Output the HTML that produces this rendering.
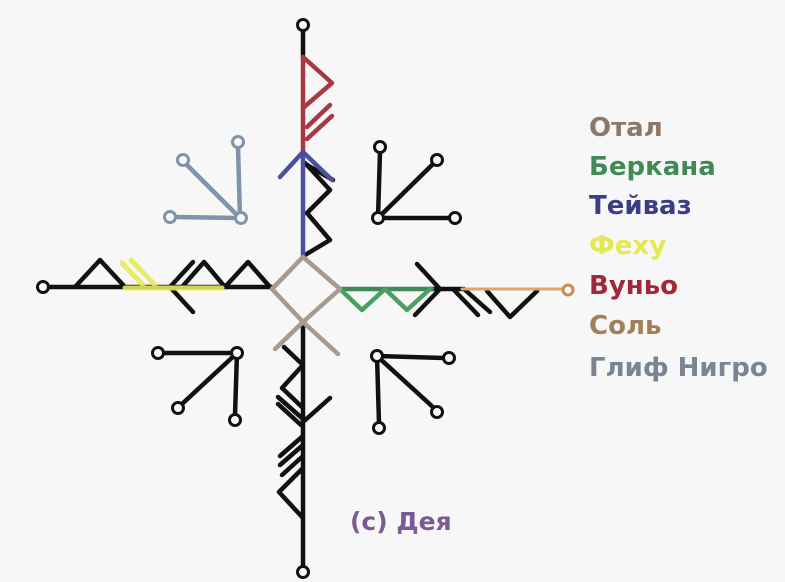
<!DOCTYPE html>
<html><head><meta charset="utf-8"><style>
html,body{margin:0;padding:0;background:#f7f7f7;}
svg{display:block}
text{font-family:"DejaVu Sans","Liberation Sans",sans-serif;font-size:26px;font-weight:bold}
</style></head><body>
<svg width="785" height="582" viewBox="0 0 785 582" xmlns="http://www.w3.org/2000/svg">
<rect width="785" height="582" fill="#f7f7f7"/>
<g fill="none" stroke-width="4.5" stroke-linecap="round" stroke-linejoin="round">
<g stroke="#111">
<line x1="303" y1="31" x2="303" y2="57"/>
<polyline points="305,163 330,190 307,213 330,240 305,255"/>
<line x1="307" y1="165" x2="333" y2="180"/>
</g>
<circle cx="303" cy="25" r="5.5" stroke="#111" stroke-width="3" fill="#f7f7f7"/>
<g stroke="#a83844">
<line x1="303" y1="57" x2="303" y2="152"/>
<polyline points="303,57 332,83 303,108"/>
<line x1="307" y1="127" x2="330" y2="105"/>
<line x1="307" y1="139" x2="332" y2="116"/>
</g>
<g stroke="#4a4fa0">
<line x1="303" y1="152" x2="303" y2="257"/>
<polyline points="280,177 303,152 332,180"/>
</g>
<g stroke="#111">
<line x1="303" y1="322" x2="303" y2="566"/>
<polyline points="284,347 303,365 282,388 303,408"/>
<line x1="278" y1="397" x2="303" y2="419"/>
<line x1="278" y1="404" x2="301" y2="425"/>
<line x1="303" y1="422" x2="330" y2="398"/>
<line x1="303" y1="436" x2="280" y2="456"/>
<line x1="303" y1="445" x2="280" y2="465"/>
<line x1="303" y1="456" x2="282" y2="475"/>
<polyline points="303,468 279,492 303,518"/>
</g>
<circle cx="303" cy="572" r="5.5" stroke="#111" stroke-width="3" fill="#f7f7f7"/>
<g stroke="#111">
<line x1="48" y1="287" x2="272" y2="287"/>
<polyline points="75,287 100,260 125,287"/>
<line x1="193" y1="262" x2="170" y2="287"/>
<line x1="170" y1="287" x2="193" y2="312"/>
<polyline points="182,287 204,262 225,287 248,262 270,287"/>
</g>
<circle cx="43" cy="287" r="5.5" stroke="#111" stroke-width="3" fill="#f7f7f7"/>
<g stroke="#e6ea5a" stroke-width="5" opacity="0.9">
<line x1="125" y1="288" x2="222" y2="288"/>
<line x1="122" y1="263" x2="143" y2="285"/>
<line x1="131" y1="260" x2="155" y2="285"/>
</g>
<g stroke="#111">
<line x1="417" y1="264" x2="440" y2="289"/>
<line x1="440" y1="289" x2="415" y2="315"/>
<line x1="430" y1="289" x2="462" y2="289"/>
<line x1="453" y1="289" x2="478" y2="315"/>
<line x1="464" y1="289" x2="490" y2="312"/>
<polyline points="487,291 510,317 537,291"/>
</g>
<line x1="462" y1="289" x2="563" y2="289" stroke="#d9a870" stroke-width="3"/>
<circle cx="568" cy="290" r="5" stroke="#c89050" stroke-width="3" fill="#f7f7f7"/>
<polyline points="340,289 432,289" stroke="#3e8a55"/>
<polyline points="340,289 362,310 385,289 407,310 430,289" stroke="#4aa060"/>
<g stroke="#a89a8c">
<polygon points="303,257 340,289 303,322 272,289"/>
<line x1="303" y1="322" x2="275" y2="349"/>
<line x1="303" y1="322" x2="338" y2="354"/>
</g>
<g stroke="#8093a8">
<line x1="240" y1="218" x2="238" y2="147"/>
<line x1="240" y1="218" x2="186" y2="164"/>
<line x1="240" y1="218" x2="175" y2="217"/>
<circle cx="238" cy="142" r="5.5" stroke-width="3" fill="#f7f7f7"/>
<circle cx="183" cy="160" r="5.5" stroke-width="3" fill="#f7f7f7"/>
<circle cx="170" cy="217" r="5.5" stroke-width="3" fill="#f7f7f7"/>
<circle cx="241" cy="218" r="5.5" stroke-width="3" fill="#f7f7f7"/>
</g>
<g stroke="#111">
<line x1="378" y1="218" x2="380" y2="152"/>
<line x1="378" y1="218" x2="433" y2="164"/>
<line x1="378" y1="218" x2="450" y2="218"/>
<circle cx="380" cy="147" r="5.5" stroke-width="3" fill="#f7f7f7"/>
<circle cx="437" cy="160" r="5.5" stroke-width="3" fill="#f7f7f7"/>
<circle cx="455" cy="218" r="5.5" stroke-width="3" fill="#f7f7f7"/>
<circle cx="378" cy="218" r="5.5" stroke-width="3" fill="#f7f7f7"/>
<line x1="237" y1="353" x2="163" y2="353"/>
<line x1="237" y1="353" x2="235" y2="415"/>
<line x1="237" y1="353" x2="182" y2="404"/>
<circle cx="158" cy="353" r="5.5" stroke-width="3" fill="#f7f7f7"/>
<circle cx="235" cy="420" r="5.5" stroke-width="3" fill="#f7f7f7"/>
<circle cx="178" cy="408" r="5.5" stroke-width="3" fill="#f7f7f7"/>
<circle cx="237" cy="353" r="5.5" stroke-width="3" fill="#f7f7f7"/>
<line x1="377" y1="356" x2="444" y2="358"/>
<line x1="377" y1="356" x2="434" y2="408"/>
<line x1="377" y1="356" x2="379" y2="423"/>
<circle cx="449" cy="358" r="5.5" stroke-width="3" fill="#f7f7f7"/>
<circle cx="437" cy="412" r="5.5" stroke-width="3" fill="#f7f7f7"/>
<circle cx="379" cy="428" r="5.5" stroke-width="3" fill="#f7f7f7"/>
<circle cx="377" cy="356" r="5.5" stroke-width="3" fill="#f7f7f7"/>
</g>
</g>
<text x="589" y="136" fill="#8a786a">Отал</text>
<text x="589" y="175" fill="#3f8a55">Беркана</text>
<text x="589" y="214" fill="#3c3d82">Тейваз</text>
<text x="589" y="254" fill="#e6e850">Феху</text>
<text x="589" y="294" fill="#a02838">Вуньо</text>
<text x="589" y="334" fill="#a0805a">Соль</text>
<text x="589" y="376" fill="#7a8592">Глиф Нигро</text>
<text x="350" y="530" fill="#7a5a92" style="font-size:25px">(c) Дея</text>
</svg>
</body></html>
